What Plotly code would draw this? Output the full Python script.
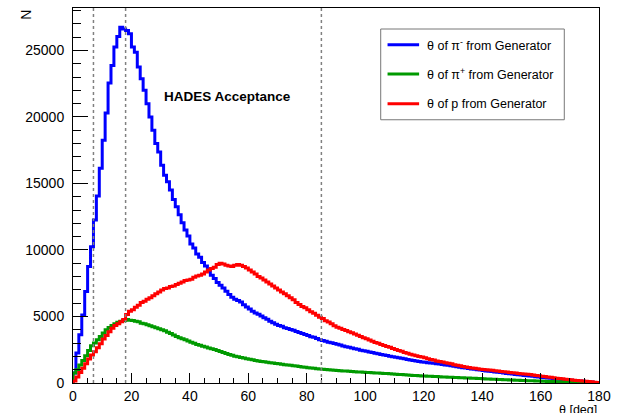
import numpy as np
import plotly.graph_objects as go

# ---------------- data (1-degree bins, 0..180 deg) ----------------
bin_edges_deg = [0, 180]          # histogram range
n_bins = 180

pim_theta = [
    750, 2250, 3620, 5120, 6870, 8750, 10250, 12250, 14050, 16150,
    18250, 20300, 22550, 23870, 25250, 26050, 26750, 26620, 26500, 26250,
    25250, 24870, 23750, 22870, 22000, 21000, 20000, 19000, 18000, 17370,
    16370, 15620, 15120, 14500, 13800, 13250, 12650, 12050, 11500, 11050,
    10450, 10150, 9700, 9450, 9050, 8800, 8450, 8100, 7850, 7550,
    7350, 7150, 6900, 6650, 6450, 6300, 6200, 6080, 5880, 5720,
    5560, 5400, 5270, 5170, 5030, 4900, 4800, 4650, 4520, 4420,
    4330, 4260, 4150, 4090, 4020, 3960, 3880, 3800, 3720, 3640,
    3570, 3480, 3430, 3340, 3260, 3200, 3140, 3070, 3020, 2960,
    2910, 2850, 2780, 2730, 2680, 2630, 2580, 2530, 2470, 2420,
    2380, 2330, 2290, 2230, 2190, 2140, 2100, 2060, 2010, 1970,
    1930, 1900, 1860, 1820, 1770, 1730, 1690, 1650, 1610, 1580,
    1560, 1530, 1500, 1480, 1450, 1420, 1390, 1360, 1330, 1300,
    1260, 1220, 1180, 1150, 1120, 1090, 1060, 1030, 1000, 970,
    940, 910, 880, 860, 830, 800, 780, 750, 720, 700,
    670, 640, 620, 600, 570, 550, 520, 500, 470, 450,
    420, 400, 370, 350, 330, 310, 290, 270, 250, 230,
    210, 190, 170, 150, 130, 110, 90, 70, 45, 25,
]

pip_theta = [
    750, 1000, 1350, 1700, 2050, 2450, 2800, 3000, 3250, 3500,
    3750, 4000, 4180, 4330, 4450, 4560, 4640, 4700, 4780, 4720,
    4700, 4650, 4600, 4500, 4450, 4380, 4300, 4220, 4150, 4080,
    4000, 3920, 3820, 3720, 3600, 3500, 3400, 3330, 3250, 3150,
    3070, 2990, 2900, 2830, 2770, 2700, 2640, 2580, 2510, 2440,
    2370, 2300, 2220, 2150, 2080, 2020, 1970, 1920, 1870, 1820,
    1780, 1740, 1700, 1660, 1620, 1590, 1560, 1530, 1500, 1470,
    1440, 1410, 1380, 1350, 1330, 1300, 1270, 1240, 1210, 1180,
    1150, 1120, 1100, 1070, 1050, 1030, 1010, 990, 970, 955,
    940, 925, 910, 895, 880, 865, 850, 835, 820, 805,
    790, 780, 770, 760, 750, 735, 720, 705, 690, 675,
    660, 645, 630, 615, 600, 585, 570, 555, 540, 530,
    520, 510, 500, 490, 480, 470, 460, 450, 440, 430,
    420, 410, 400, 390, 380, 370, 360, 350, 340, 330,
    320, 310, 300, 290, 280, 270, 260, 250, 240, 230,
    220, 210, 200, 190, 182, 175, 168, 160, 152, 145,
    138, 130, 122, 115, 108, 100, 92, 85, 78, 70,
    62, 55, 48, 42, 36, 30, 24, 18, 12, 6,
]

p_theta = [
    150, 450, 780, 1100, 1450, 1800, 2100, 2350, 2650, 2950,
    3300, 3580, 3850, 4120, 4330, 4450, 4600, 4780, 5150, 5400,
    5500, 5700, 5850, 6050, 6150, 6300, 6400, 6550, 6700, 6850,
    7000, 7100, 7150, 7250, 7300, 7400, 7500, 7600, 7700, 7750,
    7800, 7950, 8050, 8100, 8200, 8350, 8500, 8600, 8700, 8900,
    9000, 8950, 8850, 8800, 8750, 8850, 8900, 8850, 8750, 8650,
    8500, 8350, 8200, 8000, 7900, 7750, 7600, 7450, 7300, 7150,
    7000, 6850, 6700, 6550, 6400, 6250, 6050, 5900, 5750, 5650,
    5500, 5350, 5250, 5100, 4950, 4850, 4680, 4580, 4450, 4300,
    4200, 4120, 4030, 3950, 3850, 3770, 3680, 3590, 3500, 3400,
    3320, 3230, 3140, 3050, 2980, 2900, 2820, 2750, 2680, 2600,
    2520, 2450, 2380, 2300, 2230, 2170, 2100, 2050, 2000, 1950,
    1900, 1830, 1760, 1720, 1660, 1610, 1570, 1530, 1490, 1450,
    1380, 1330, 1290, 1240, 1200, 1160, 1130, 1100, 1070, 1040,
    1020, 1000, 975, 950, 920, 895, 870, 845, 820, 795,
    770, 745, 720, 700, 680, 655, 630, 600, 570, 545,
    515, 485, 455, 425, 395, 365, 340, 315, 290, 265,
    240, 215, 195, 170, 150, 130, 110, 85, 60, 35,
]

series_names = ["θ of π<sup>-</sup> from Generator",
                "θ of π<sup>+</sup> from Generator",
                "θ of p from Generator"]
series_values = [pim_theta, pip_theta, p_theta]
series_colors = ["#0000ff", "#009a00", "#ff0000"]

acceptance_lines_deg = [7, 18, 85]
x_ticks = [0, 20, 40, 60, 80, 100, 120, 140, 160, 180]
y_ticks = [0, 5000, 10000, 15000, 20000, 25000]
y_tick_labels = ["0", "5000", "10000", "15000", "20000", "25000"]
y_max = 28190

# ---------------- figure ----------------
edges = np.linspace(bin_edges_deg[0], bin_edges_deg[1], n_bins + 1)

fig = go.Figure()
for name, vals, col in zip(series_names, series_values, series_colors):
    v = np.asarray(vals, dtype=float)
    xs = np.concatenate([[edges[0]], edges[:-1], [edges[-1]], [edges[-1]]])
    ys = np.concatenate([[0.0], v, [v[-1]], [0.0]])
    fig.add_trace(go.Scatter(x=xs, y=ys, mode="lines", line_shape="hv",
                             line=dict(color=col, width=3),
                             name=name, showlegend=False, hoverinfo="skip"))

for xv in acceptance_lines_deg:
    fig.add_shape(type="line", xref="x", yref="y", x0=xv, x1=xv, y0=0, y1=y_max,
                  line=dict(color="#808080", width=1.5, dash="dot"), layer="above")

# legend drawn by hand (ROOT TLegend look)
L = dict(x0=0.585, x1=0.934, y0=0.702, y1=0.944)
fig.add_shape(type="rect", xref="paper", yref="paper", x0=L["x0"], x1=L["x1"],
              y0=L["y0"], y1=L["y1"], line=dict(color="#777777", width=1),
              fillcolor="white", layer="above")
row_y = [0.902, 0.824, 0.745]
for ry, name, col in zip(row_y, series_names, series_colors):
    fig.add_shape(type="line", xref="paper", yref="paper", x0=0.598, x1=0.658,
                  y0=ry, y1=ry, line=dict(color=col, width=3), layer="above")
    fig.add_annotation(xref="paper", yref="paper", x=0.669, y=ry, text=name,
                       showarrow=False, xanchor="left", yanchor="middle",
                       font=dict(family="Liberation Sans, Arial", size=12.5, color="black"))

fig.add_annotation(xref="paper", yref="paper", x=0.17, y=0.765,
                   text="<b>HADES Acceptance</b>", showarrow=False,
                   xanchor="left", yanchor="middle",
                   font=dict(family="Liberation Sans, Arial", size=13.5, color="black"))

fig.add_annotation(xref="paper", yref="paper", x=1.0, y=-0.071, text="θ [deg]",
                   showarrow=False, xanchor="right", yanchor="middle",
                   font=dict(family="Liberation Sans, Arial", size=12.5, color="black"))
fig.add_annotation(xref="paper", yref="paper", x=-0.09, y=1.0, text="N",
                   textangle=-90, showarrow=False, xanchor="center", yanchor="top",
                   font=dict(family="Liberation Sans, Arial", size=14, color="black"))

fig.update_layout(
    width=618, height=413,
    margin=dict(l=73, r=15, t=7, b=30),
    paper_bgcolor="white", plot_bgcolor="white",
    xaxis=dict(range=[0, 180], tickvals=x_ticks, ticks="inside", ticklen=10,
               tickcolor="black", showline=True, linecolor="black", linewidth=1,
               mirror=True, showgrid=False, zeroline=False,
               minor=dict(dtick=5, ticks="inside", ticklen=5, tickcolor="black", showgrid=False),
               tickfont=dict(family="Liberation Sans, Arial", size=14, color="black")),
    yaxis=dict(range=[0, y_max], tickvals=y_ticks, ticktext=y_tick_labels,
               ticks="inside", ticklen=15, ticklabelstandoff=5,
               tickcolor="black", showline=True, linecolor="black", linewidth=1,
               mirror=True, showgrid=False, zeroline=False,
               minor=dict(dtick=1000, ticks="inside", ticklen=8, tickcolor="black", showgrid=False),
               tickfont=dict(family="Liberation Sans Narrow, Arial Narrow, Liberation Sans", size=14, color="black")),
)

fig.write_html("out.html", config={"displayModeBar": False},
               post_script="document.body.style.margin='0';document.body.style.overflow='hidden';")
